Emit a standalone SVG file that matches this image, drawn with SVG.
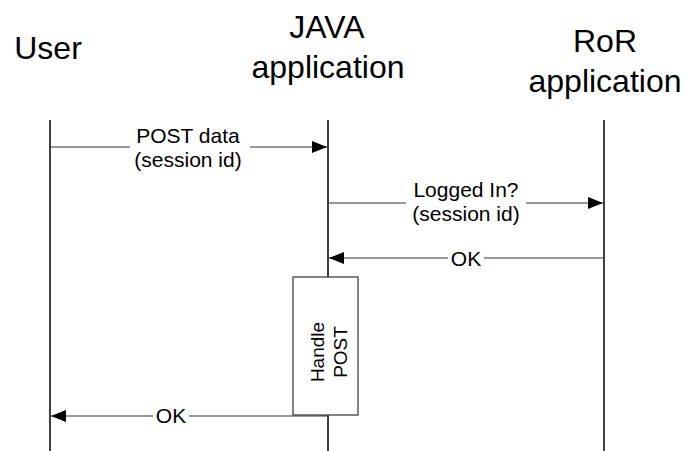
<svg xmlns="http://www.w3.org/2000/svg" width="686" height="451" viewBox="0 0 686 451">
<defs>
<marker id="ah" markerWidth="16" markerHeight="12" refX="15" refY="6" orient="auto" markerUnits="userSpaceOnUse"><path d="M0,0 L15,6 L0,12 Z" fill="#000"/></marker>
<style>
.t{font-family:"Liberation Sans",Arial,sans-serif;fill:#000}
.h{font-size:32px;text-anchor:middle}
.l{font-size:21px;text-anchor:middle}
.r{font-size:19px;text-anchor:middle}
.life{stroke:#000;stroke-width:1.5;fill:none}
.msg{stroke:#333;stroke-width:1.2;fill:none}
.bg{fill:#fff}
</style>
</defs>
<g id="user">
<text class="t h" x="48" y="59">User</text>
<line class="life" x1="50" y1="120" x2="50" y2="451"/>
</g>
<g id="java">
<text class="t h" x="327" y="38">JAVA</text>
<text class="t h" x="328" y="78">application</text>
<line class="life" x1="328" y1="120" x2="328" y2="451"/>
</g>
<g id="ror">
<text class="t h" x="605" y="52">RoR</text>
<text class="t h" x="605" y="92">application</text>
<line class="life" x1="604" y1="120" x2="604" y2="451"/>
</g>
<g id="handle">
<rect x="293" y="277" width="65" height="138" fill="#fff" stroke="#333" stroke-width="1.2"/>
<text class="t r" transform="translate(324,352) rotate(-90)">Handle</text>
<text class="t r" transform="translate(347,352) rotate(-90)">POST</text>
</g>
<g id="connectors">
<line class="msg" x1="50" y1="147" x2="327" y2="147" marker-end="url(#ah)"/>
<rect class="bg" x="130" y="124" width="120" height="48"/>
<text class="t l" x="188" y="143">POST data</text>
<text class="t l" x="188" y="167">(session id)</text>
<line class="msg" x1="328" y1="203" x2="603" y2="203" marker-end="url(#ah)"/>
<rect class="bg" x="406" y="180" width="120" height="48"/>
<text class="t l" x="466" y="197">Logged In?</text>
<text class="t l" x="466" y="221">(session id)</text>
<line class="msg" x1="604" y1="258" x2="329" y2="258" marker-end="url(#ah)"/>
<rect class="bg" x="448" y="248" width="36" height="20"/>
<text class="t l" x="466" y="266">OK</text>
<line class="msg" x1="327" y1="416" x2="51" y2="416" marker-end="url(#ah)"/>
<rect class="bg" x="153" y="406" width="36" height="20"/>
<text class="t l" x="171" y="423">OK</text>
</g>
</svg>
